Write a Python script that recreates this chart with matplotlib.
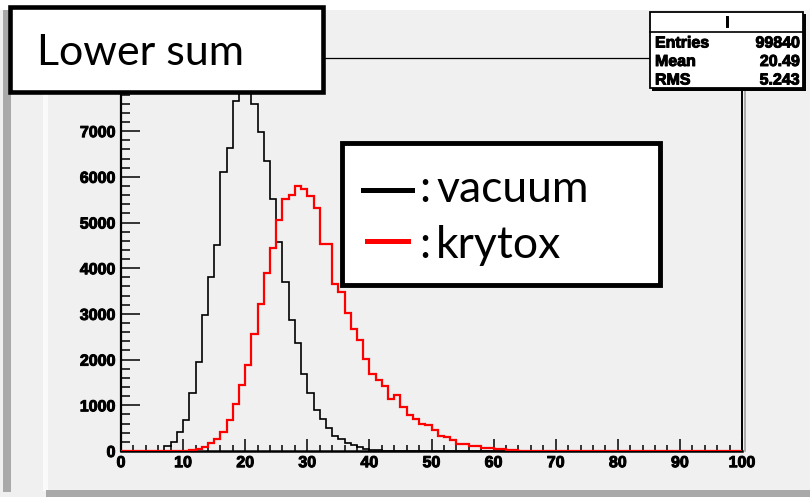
import matplotlib.pyplot as plt
import matplotlib.patheffects as pe
import numpy as np
from matplotlib.patches import Rectangle
from matplotlib.lines import Line2D
from matplotlib.ticker import MultipleLocator

W, H = 810, 497

# bin contents, 100 bins of width 1 from 0 to 100
vacuum = [
    0, 0, 0, 0, 0, 0, 0, 110, 200, 420,
    680, 1260, 1950, 2970, 3800, 4500, 6100, 6640, 7650, 8200,
    8150, 7590, 6985, 6350, 5510, 4575, 3690, 2860, 2360, 1680,
    1260, 900, 690, 510, 330, 255, 180, 125, 80, 50,
    30, 15, 8, 0, 0, 0, 0, 0, 0, 0,
    0, 0, 0, 0, 0, 0, 0, 0, 0, 0,
    0, 0, 0, 0, 0, 0, 0, 0, 0, 0,
    0, 0, 0, 0, 0, 0, 0, 0, 0, 0,
    0, 0, 0, 0, 0, 0, 0, 0, 0, 0,
    0, 0, 0, 0, 0, 0, 0, 0, 0, 0,
]
krytox = [
    0, 0, 0, 0, 0, 0, 0, 0, 0, 0,
    5, 15, 50, 90, 180, 255, 425, 670, 1020, 1445,
    1875, 2550, 3210, 3890, 4450, 5050, 5525, 5600, 5795, 5730,
    5585, 5310, 4525, 4525, 3650, 3470, 3030, 2680, 2420, 2010,
    1680, 1550, 1425, 1130, 1220, 970, 790, 695, 600, 570,
    450, 330, 305, 235, 145, 145, 110, 120, 75, 60,
    45, 35, 20, 15, 10, 5, 3, 2, 1, 1,
    0, 0, 0, 0, 0, 0, 0, 0, 0, 0,
    0, 0, 0, 0, 0, 0, 0, 0, 0, 0,
    0, 0, 0, 0, 0, 0, 0, 0, 0, 0,
]
edges = np.arange(0, 101)

title = "Lower sum"
legend_labels = ["vacuum", "krytox"]
stats_name = "l"
stats_rows = [("Entries", "99840"), ("Mean", "20.49"), ("RMS", "5.243")]

bg = "#f0f0f0"
heavy = [pe.withStroke(linewidth=0.7, foreground="black")]
fig = plt.figure(figsize=(W / 100, H / 100), dpi=100, facecolor=bg)


def box(x0, y0, x1, y1, **kw):
    # rectangle given in pixel coords from the top-left corner
    r = Rectangle((x0 / W, 1 - y1 / H), (x1 - x0) / W, (y1 - y0) / H,
                  transform=fig.transFigure, **kw)
    fig.add_artist(r)
    return r


# canvas bevels
box(0, 0, W, 10, facecolor="white", edgecolor="none", zorder=0)
box(3, 10, 11, 492, facecolor="#a9a9a9", edgecolor="none", zorder=0)
box(43, 10, 48, 491, facecolor="#fafafa", edgecolor="none", zorder=0)
box(46, 490, W, H, facecolor="#a9a9a9", edgecolor="none", zorder=0)

ax = fig.add_axes([121 / W, 1 - 451 / H, 621 / W, 393 / H])
ax.set_facecolor(bg)
ax.stairs(vacuum, edges, color="black", lw=1.2, zorder=3)
ax.stairs(krytox, edges, color="red", lw=1.6, zorder=4)
ax.set_xlim(0, 100)
ax.set_ylim(0, 8600)

ax.xaxis.set_major_locator(MultipleLocator(10))
ax.xaxis.set_minor_locator(MultipleLocator(2))
ax.yaxis.set_major_locator(MultipleLocator(1000))
ax.yaxis.set_minor_locator(MultipleLocator(200))
ax.tick_params(axis="x", which="major", direction="in", length=9, width=1.1, pad=3)
ax.tick_params(axis="x", which="minor", direction="in", length=4.6, width=1.1)
ax.tick_params(axis="y", which="major", direction="in", length=13.5, width=1.1, pad=4)
ax.tick_params(axis="y", which="minor", direction="in", length=6.8, width=1.1)
for lab in ax.get_xticklabels() + ax.get_yticklabels():
    lab.set_fontfamily("Liberation Sans")
    lab.set_fontweight("bold")
    lab.set_fontsize(11.5)
    lab.set_path_effects(heavy)

ax.spines["left"].set_linewidth(1.6)
ax.spines["bottom"].set_linewidth(1.8)
ax.spines["top"].set_linewidth(0.9)
ax.spines["right"].set_linewidth(1.4)

# gray shadow right of the frame
fig.add_artist(Line2D([744.5 / W, 744.5 / W], [1 - 451 / H, 1 - 58 / H],
                      transform=fig.transFigure, color="#a0a0a0", lw=1.2, zorder=1))

# title box
box(10, 7, 323, 92, facecolor="white", edgecolor="black", lw=3.3, zorder=10)
fig.text(37 / W, 1 - 65 / H, title, fontsize=31, family="Lato",
         ha="left", va="baseline", zorder=11)

# stats box
box(652, 14, 806, 91, facecolor="black", edgecolor="none", zorder=10)
box(650, 12, 803, 88, facecolor="white", edgecolor="black", lw=1.3, zorder=11)
fig.add_artist(Line2D([650 / W, 803 / W], [1 - 32 / H, 1 - 32 / H],
                      transform=fig.transFigure, color="black", lw=1.2, zorder=12))
fig.text(727 / W, 1 - 23 / H, stats_name, fontsize=11, family="Liberation Sans",
         weight="bold", ha="center", va="center", zorder=12, path_effects=heavy)
for i, (k, v) in enumerate(stats_rows):
    y = 1 - (43 + 18.5 * i) / H
    fig.text(655 / W, y, k, fontsize=11.5, family="Liberation Sans",
             weight="bold", ha="left", va="center", zorder=12, path_effects=heavy)
    fig.text(800 / W, y, v, fontsize=11.5, family="Liberation Sans",
             weight="bold", ha="right", va="center", zorder=12, path_effects=heavy)

# legend box
box(342, 143, 660, 285, facecolor="white", edgecolor="black", lw=3.5, zorder=10)
for i, (lab, col) in enumerate(zip(legend_labels, ["black", "red"])):
    yl = 1 - (190 + 51 * i) / H
    x0 = 363 if i == 0 else 367
    x1 = 412 if i == 0 else 408
    fig.add_artist(Line2D([x0 / W, x1 / W], [yl, yl], transform=fig.transFigure,
                          color=col, lw=3.6, zorder=11))
    yb = 1 - (202 + 56 * i) / H
    fig.text(419 / W, yb, ":", fontsize=32, family="Lato",
             ha="left", va="baseline", zorder=11)
    fig.text(436 / W, yb, lab, fontsize=32, family="Lato",
             ha="left", va="baseline", zorder=11)

fig.savefig("out.png", dpi=100, facecolor=bg)
